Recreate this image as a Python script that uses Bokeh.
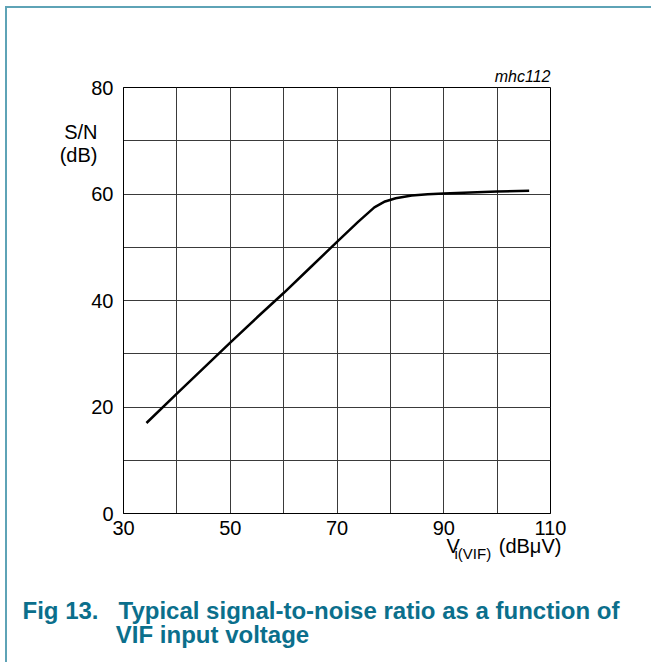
from bokeh.plotting import figure
from bokeh.models import Range1d, FixedTicker, Title
from bokeh.embed import file_html
from bokeh.resources import INLINE

# ---- data ----
vin = [34.3, 40, 45, 50, 55, 60, 65, 70, 74, 77, 79, 81, 84, 87, 90, 95, 100, 106]
sn = [17.0, 22.5, 27.3, 32.1, 36.8, 41.4, 46.2, 51.0, 54.8, 57.5, 58.6, 59.2,
      59.7, 59.95, 60.1, 60.3, 60.45, 60.6]
x_ticks = [30, 50, 70, 90, 110]
y_ticks = [0, 20, 40, 60, 80]
x_grid = [30, 40, 50, 60, 70, 80, 90, 100, 110]
y_grid = [0, 10, 20, 30, 40, 50, 60, 70, 80]
NB = "\u00a0"
y_label = (NB + "\n") * 5 + "S/N\n(dB)"
x_label_main = "V" + NB * 7 + "(dBμV)"
x_label_sub = "i(VIF)"
code = "mhc112"
caption = ("Fig 13." + NB * 3 + "Typical signal-to-noise ratio as a function of\n"
           + NB * 14 + "VIF input voltage")

FONT = "Liberation Sans"
TEAL = "#0b6f8c"
BORDER = "#5ea3b6"

p = figure(frame_width=427, frame_height=426,
           min_border_left=123, min_border_right=101,
           min_border_top=87, min_border_bottom=141,
           x_range=Range1d(30, 110), y_range=Range1d(0, 80),
           output_backend="svg", toolbar_location=None)
p.background_fill_color = "white"
p.border_fill_color = None
p.outline_line_color = "black"
p.outline_line_width = 1
p.styles = {
    "background-color": "white",
    "background-image": f"linear-gradient({BORDER}, {BORDER}), linear-gradient({BORDER}, {BORDER})",
    "background-size": "2px 100%, 100% 2px",
    "background-position": "5px 6px, 5px 6px",
    "background-repeat": "no-repeat",
}

p.xaxis.ticker = FixedTicker(ticks=x_ticks)
p.yaxis.ticker = FixedTicker(ticks=y_ticks)
p.xgrid.ticker = FixedTicker(ticks=x_grid)
p.ygrid.ticker = FixedTicker(ticks=y_grid)
for g in (p.xgrid, p.ygrid):
    g.grid_line_color = "#3a3a3a"
    g.grid_line_width = 1
for ax in (p.xaxis, p.yaxis):
    ax.axis_line_color = "black"
    ax.major_tick_line_color = None
    ax.minor_tick_line_color = None
    ax.major_tick_out = 0
    ax.major_tick_in = 0
    ax.minor_tick_out = 0
    ax.major_label_text_font = FONT
    ax.major_label_text_font_size = "20px"
    ax.major_label_text_color = "black"
p.xaxis.major_label_standoff = 7
p.yaxis.major_label_standoff = 10

p.yaxis.axis_label = y_label
p.yaxis.axis_label_orientation = "horizontal"
p.yaxis.axis_label_align = "end"
p.yaxis.axis_label_standoff_mode = "axis"
p.yaxis.axis_label_standoff = 26
p.yaxis.axis_label_text_font = FONT
p.yaxis.axis_label_text_font_size = "20px"
p.yaxis.axis_label_text_line_height = 1.02
p.yaxis.axis_label_text_font_style = "normal"
p.yaxis.axis_label_text_color = "black"

p.line(vin, sn, line_color="black", line_width=2.5)

p.add_layout(Title(text=code, align="right", text_font=FONT, text_font_size="16px",
                   text_font_style="italic", text_color="black", standoff=6), "above")

def below(text, offset, standoff, size="20px", style="normal", color="black", lh=1.2):
    p.add_layout(Title(text=text, align="left", offset=offset, standoff=standoff,
                       text_font=FONT, text_font_size=size, text_font_style=style,
                       text_color=color, text_line_height=lh), "below")

below(x_label_main, 446 - 123, -10)
below(x_label_sub, 454 - 123, -20, size="15px")
below(caption, 22 - 123, 86, size="24px", style="bold", color=TEAL, lh=0.92)

open("out.html", "w").write(file_html(p, INLINE))
